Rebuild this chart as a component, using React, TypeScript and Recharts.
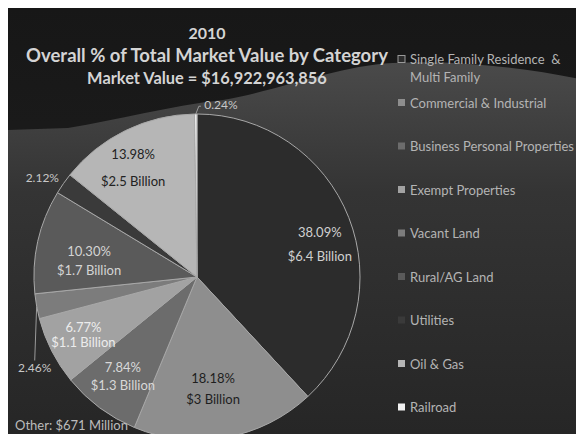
import { PieChart, Pie, Cell } from "recharts";

const categories = [
  "Single Family Residence  & Multi Family",
  "Commercial & Industrial",
  "Business Personal Properties",
  "Exempt Properties",
  "Vacant Land",
  "Rural/AG Land",
  "Utilities",
  "Oil & Gas",
  "Railroad",
];
const shares = [38.09, 18.18, 7.84, 6.77, 2.46, 10.3, 2.12, 13.98, 0.24];
const amounts = ["$6.4 Billion", "$3 Billion", "$1.3 Billion", "$1.1 Billion", "", "$1.7 Billion", "", "$2.5 Billion", ""];

const fills = ["#2c2c2c", "#8e8e8e", "#6c6c6c", "#a2a2a2", "#7c7c7c", "#5a5a5a", "#3a3a3a", "#b6b6b6", "#f2f2f2"];
const labelInk = ["#d0d0d0", "#1e1e1e", "#d8d8d8", "#ececec", "#c8c8c8", "#d4d4d4", "#c8c8c8", "#222222", "#c8c8c8"];
// radius factor, clockwise angle shift, gap between the two lines, leader line
const placement: [number, number, number, boolean][] = [
  [0.78, 6.4, 24, false],
  [0.69, 1.9, 21, false],
  [0.76, 0, 18, false],
  [0.78, 0.2, 15, false],
  [1.14, -18.8, 0, true],
  [0.67, -4, 19, false],
  [1.13, -2.1, 0, false],
  [0.78, -4.1, 27, false],
  [1.07, 8.3, 0, true],
];

const data = categories.map((name, i) => ({ name, value: shares[i] }));

const W = 576;
const H = 426;
const RAD = Math.PI / 180;
const font = "Lato, 'Open Sans', sans-serif";

function SliceLabel(props: any) {
  const { cx, cy, midAngle, outerRadius, index } = props;
  const [rf, shift, gap, leader] = placement[index];
  const ang = midAngle - shift;
  const r = outerRadius * rf;
  const x = cx + r * Math.cos(-ang * RAD);
  const y = cy + r * Math.sin(-ang * RAD);
  const pct = shares[index].toFixed(2) + "%";
  const ink = labelInk[index];
  const ax = cx + outerRadius * Math.cos(-midAngle * RAD);
  const ay = cy + outerRadius * Math.sin(-midAngle * RAD);
  return (
    <g>
      {leader && (
        <polyline
          points={index === 8 ? `${x - 20},${y + 2} ${x - 22},${y + 2} ${ax},${ay}` : `${x},${y - 7} ${ax},${ay}`}
          fill="none"
          stroke="#9a9a9a"
          strokeWidth={1}
        />
      )}
      {amounts[index] ? (
        <>
          <text x={x} y={y - gap / 2} textAnchor="middle" dominantBaseline="central" fill={ink} fontSize={13} fontFamily={font}>
            {pct}
          </text>
          <text x={x} y={y + gap / 2} textAnchor="middle" dominantBaseline="central" fill={ink} fontSize={13} fontFamily={font}>
            {amounts[index]}
          </text>
        </>
      ) : (
        <text x={x} y={y} textAnchor="middle" dominantBaseline="central" fill={ink} fontSize={12} fontFamily={font}>
          {pct}
        </text>
      )}
    </g>
  );
}

export default function App() {
  return (
    <div style={{ position: "relative", width: W, height: H, overflow: "hidden", background: "#1b1b1b" }}>
      <svg width={W} height={H} style={{ position: "absolute", left: 0, top: 0 }}>
        <defs>
          <linearGradient id="bgTop" x1="0" y1="0" x2="0" y2="1">
            <stop offset="0" stopColor="#171717" />
            <stop offset="1" stopColor="#222222" />
          </linearGradient>
          <linearGradient id="wave" x1="0" y1="0" x2="0" y2="1">
            <stop offset="0" stopColor="#4a4a4a" />
            <stop offset="0.35" stopColor="#343434" />
            <stop offset="1" stopColor="#262626" />
          </linearGradient>
        </defs>
        <rect width={W} height={H} fill="url(#bgTop)" />
        <path
          d="M0 122 L60 120 C110 112, 160 98, 215 92 C280 80, 330 58, 385 55 C450 52, 520 60, 576 72 L576 426 L0 426 Z"
          fill="url(#wave)"
        />
      </svg>
      <div style={{ position: "absolute", left: 0, top: 0 }}>
        <PieChart width={W} height={H}>
          <Pie
            data={data}
            dataKey="value"
            nameKey="name"
            cx={184}
            cy={264}
            outerRadius={163}
            startAngle={90}
            endAngle={-270}
            stroke="#a8a8a8"
            strokeWidth={1}
            label={SliceLabel}
            labelLine={false}
            isAnimationActive={false}
          >
            {data.map((_, i) => (
              <Cell key={i} fill={fills[i]} />
            ))}
          </Pie>
        </PieChart>
      </div>
      <svg width={W} height={H} style={{ position: "absolute", left: 0, top: 0, pointerEvents: "none" }}>
        <g fontFamily={font} fontWeight={700} fill="#d4d4d4" textAnchor="middle">
          <text x={199} y={31} fontSize={16}>2010</text>
          <text x={199} y={54} fontSize={18.5}>Overall % of Total Market Value by Category</text>
          <text x={199} y={76} fontSize={16.4}>Market Value = $16,922,963,856</text>
        </g>
        <g fontFamily={font} fontSize={13} fill="#b4b4b4">
          {categories.map((c, i) => {
            const y = 51 + i * 43.5;
            const lines = i === 0 ? ["Single Family Residence  &", "Multi Family"] : [c];
            return (
              <g key={c}>
                <rect
                  x={390}
                  y={y - 3.5}
                  width={7}
                  height={7}
                  fill={fills[i]}
                  stroke={i === 0 ? "#9a9a9a" : "none"}
                  strokeWidth={1}
                />
                {lines.map((t, j) => (
                  <text key={j} x={402} y={y + j * 18} dominantBaseline="central" style={{ whiteSpace: "pre" }}>
                    {t}
                  </text>
                ))}
              </g>
            );
          })}
        </g>
        <text x={7} y={422} fontFamily={font} fontSize={13} fill="#bcbcbc">
          Other: $671 Million
        </text>
      </svg>
    </div>
  );
}
